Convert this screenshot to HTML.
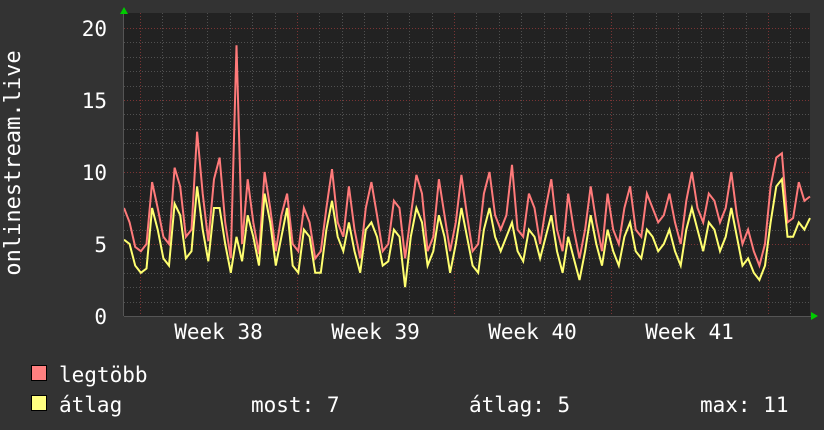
<!DOCTYPE html>
<html><head><meta charset="utf-8"><style>
html,body{margin:0;padding:0;background:#333333;}
svg{display:block;}
text{font-family:"DejaVu Sans Mono","Liberation Mono",monospace;fill:#ffffff;}
</style></head><body>
<svg id="chart" width="824" height="430" viewBox="0 0 824 430">
<rect x="0" y="0" width="824" height="430" fill="#333333"/>
<rect x="124" y="13" width="686" height="303" fill="#222222"/>
<g id="grid"></g>
<g id="series"></g>
<g id="axes"></g>
<polygon points="120,14 128,14 124,7" fill="#00cc00"/>
<polygon points="811,312 811,320 818,316" fill="#00cc00"/>
<text x="0" y="0" font-size="22" text-anchor="middle" transform="translate(20,163) rotate(-90)">onlinestream.live</text>
<rect x="31.5" y="365.5" width="15" height="15" fill="#ff8080" stroke="#000"/>
<text x="59" y="382" font-size="21">legtöbb</text>
<rect x="31.5" y="395.5" width="15" height="15" fill="#ffff80" stroke="#000"/>
<text x="59" y="412" font-size="21">átlag</text>
<text x="251" y="412" font-size="21">most: 7</text>
<text x="469" y="412" font-size="21">átlag: 5</text>
<text x="700" y="412" font-size="21">max: 11</text>
</svg>
<script>
const yTicks = [0, 5, 10, 15, 20];
const weekLabels = ["Week 38", "Week 39", "Week 40", "Week 41"];
const legtobb = [7.5,6.5,4.8,4.5,5.0,9.3,7.5,5.5,5.0,10.3,
9.0,5.5,6.0,12.8,8.5,5.2,9.5,11.0,6.5,4.0,
18.8,5.0,9.5,6.5,4.3,10.0,7.5,4.5,7.0,8.5,
5.0,4.5,7.5,6.5,4.0,4.5,7.5,10.2,6.5,5.5,
9.0,6.0,4.0,7.5,9.3,7.0,4.5,5.0,8.0,7.5,
4.0,7.0,9.8,8.5,4.5,5.5,9.5,7.0,4.5,6.5,
9.8,7.0,4.5,5.0,8.5,10.0,7.0,6.0,7.0,10.5,
6.0,5.5,8.5,7.5,5.0,7.5,9.5,6.0,4.5,8.5,
6.0,4.0,6.0,9.0,6.5,4.5,8.5,6.0,5.0,7.5,
9.0,6.0,5.5,8.5,7.5,6.5,7.0,8.5,6.5,5.0,
8.0,10.0,7.5,6.5,8.5,8.0,6.5,7.5,10.0,7.0,
5.0,6.0,4.5,3.5,5.0,9.0,11.0,11.3,6.5,6.8,
9.3,8.0,8.3];
const atlag = [5.3,5.0,3.5,3.0,3.3,7.5,6.0,4.0,3.5,7.8,
7.0,4.0,4.5,9.0,6.0,3.8,7.5,7.5,5.0,3.0,
5.5,3.8,7.0,5.5,3.5,8.5,6.5,3.5,5.5,7.5,
3.5,3.0,6.0,5.5,3.0,3.0,6.0,8.0,5.5,4.5,
6.5,4.5,3.0,6.0,6.5,5.5,3.5,3.8,6.0,5.5,
2.0,5.5,7.5,6.5,3.5,4.5,7.0,5.5,3.0,5.0,
7.5,5.5,3.5,3.0,6.0,7.5,5.5,4.5,5.5,6.5,
4.5,3.8,6.0,5.5,4.0,5.5,7.0,4.5,3.0,5.5,
4.0,2.5,4.5,7.0,5.0,3.5,6.0,4.5,3.5,5.5,
6.5,4.5,4.0,6.0,5.5,4.5,5.0,6.0,4.5,3.5,
6.0,7.5,6.0,4.5,6.5,6.0,4.5,5.5,7.5,5.5,
3.5,4.0,3.0,2.5,3.5,6.5,9.0,9.5,5.5,5.5,
6.5,6.0,6.8];

const NS = "http://www.w3.org/2000/svg";
const X0 = 124, X1 = 810, Y0 = 316, YTOP = 28;
function yScale(v){ return Y0 - (v / 20) * (Y0 - YTOP); }
function xIdx(i, n){ return X0 + i * (X1 - X0) / (n - 1); }
const WEEK0 = 140, WEEKW = 157, DAYW = WEEKW / 7;

const grid = document.getElementById('grid');
const axes = document.getElementById('axes');
function line(parent, x1, y1, x2, y2, color, dash){
  const l = document.createElementNS(NS, 'line');
  l.setAttribute('x1', x1); l.setAttribute('y1', y1);
  l.setAttribute('x2', x2); l.setAttribute('y2', y2);
  l.setAttribute('stroke', color); l.setAttribute('stroke-width', 1);
  if (dash) l.setAttribute('stroke-dasharray', dash);
  parent.appendChild(l);
  return l;
}
for (let v = 1; v <= 20; v++) {
  if (v % 5 === 0) continue;
  const y = Math.round(yScale(v)) + 0.5;
  const l = line(grid, X0, y, X1, y, '#505050', '1,2');
  
  
}
for (let k = -1; k < 40; k++) {
  const x = WEEK0 + k * DAYW;
  if (x < X0 || x > X1) continue;
  if (k % 7 === 0) continue;
  const xx = Math.round(x) + 0.5;
  const l = line(grid, xx, 13, xx, Y0, '#505050', '1,2');
  
  
}
yTicks.forEach(function(v){
  const y = Math.round(yScale(v)) + 0.5;
  if (v > 0) {
    const l = line(grid, X0, y, X1, y, '#7a3434', '1,2');
    
    
  }
  const t = document.createElementNS(NS, 'text');
  t.setAttribute('x', 107); t.setAttribute('y', yScale(v) + 8);
  t.setAttribute('font-size', 21); t.setAttribute('text-anchor', 'end');
  t.textContent = v;
  
  
  axes.appendChild(t);
});
for (let w = 0; w < 5; w++) {
  const xx = Math.round(WEEK0 + w * WEEKW) + 0.5;
  const l = line(grid, xx, 13, xx, Y0, '#7a3434', '1,2');
  
  
}
weekLabels.forEach(function(lab, w){
  const t = document.createElementNS(NS, 'text');
  t.setAttribute('x', WEEK0 + (w + 0.5) * WEEKW); t.setAttribute('y', 339);
  t.setAttribute('font-size', 21); t.setAttribute('text-anchor', 'middle');
  t.textContent = lab;
  
  
  axes.appendChild(t);
});
const xa = line(axes, X0, Y0 + 0.5, X1 + 2, Y0 + 0.5, '#555555');


const ya = line(axes, X0 - 0.5, 12, X0 - 0.5, Y0, '#555555');



const series = document.getElementById('series');
function drawSeries(data, color, name){
  const pts = data.map(function(v, i){ return xIdx(i, data.length).toFixed(1) + ',' + yScale(v).toFixed(1); });
  const p = document.createElementNS(NS, 'polyline');
  p.setAttribute('points', pts.join(' '));
  p.setAttribute('fill', 'none');
  p.setAttribute('stroke', color);
  p.setAttribute('stroke-width', 2);
  p.setAttribute('stroke-linejoin', 'miter');
  
  
  series.appendChild(p);
}
drawSeries(legtobb, '#ff7a7a', 'line-legtobb');
drawSeries(atlag, '#ffff70', 'line-atlag');
</script>
</body></html>
